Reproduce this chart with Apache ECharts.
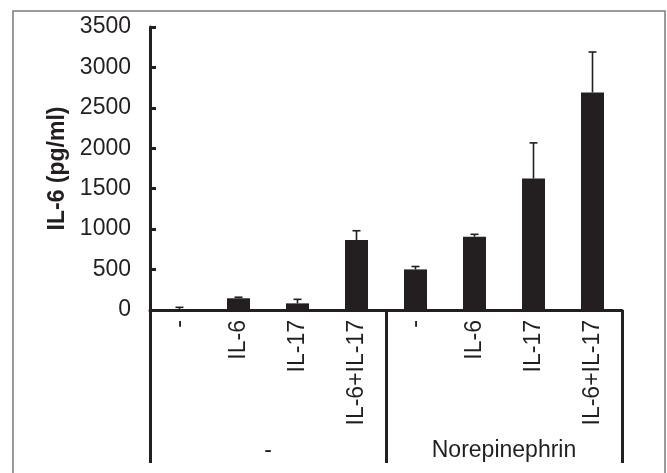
<!DOCTYPE html>
<html>
<head>
<meta charset="utf-8">
<script src="https://cdn.jsdelivr.net/npm/echarts@6/dist/echarts.min.js"></script>
<style>html,body{margin:0;padding:0;background:#fff;}#c{width:667px;height:473px;}</style>
</head>
<body>
<div id="c"></div>
<script>
const categories = ['-', 'IL-6', 'IL-17', 'IL-6+IL-17', '-', 'IL-6', 'IL-17', 'IL-6+IL-17'];
const groups = ['-', 'Norepinephrin'];
const means = [5, 145, 82, 865, 502, 906, 1626, 2690];
const errTops = [33, 158, 132, 980, 538, 936, 2067, 3191];
const yTicks = [0, 500, 1000, 1500, 2000, 2500, 3000, 3500];

const ink = '#231f20';
const font = "'Liberation Sans', Arial, sans-serif";
const chart = echarts.init(document.getElementById('c'));
chart.setOption({
  animation: false,
  backgroundColor: '#fff',
  graphic: [{
    type: 'polyline', silent: true,
    shape: { points: [[13, 480], [13, 11], [665, 11], [665, 480]] },
    style: { stroke: '#7a7a7a', lineWidth: 1.5, fill: null }
  }],
  grid: { left: 150, right: 45, top: 27, bottom: 163, containLabel: false },
  xAxis: [{
    type: 'category', data: categories, position: 'bottom',
    axisLine: { show: true, onZero: false, lineStyle: { color: ink, width: 3 } },
    axisTick: { show: false },
    axisLabel: { rotate: 90, margin: 10, fontSize: 23, color: ink, fontFamily: font, interval: 0 }
  }, {
    type: 'category', data: groups, position: 'bottom', offset: 0,
    axisLine: { show: false },
    axisTick: { show: true, length: 153, lineStyle: { color: ink, width: 3 } },
    axisLabel: { margin: 129, fontSize: 23, color: ink, fontFamily: font, interval: 0 }
  }],
  yAxis: {
    type: 'value', min: 0, max: 3500, interval: 500,
    name: 'IL-6 (pg/ml)', nameLocation: 'middle', nameGap: 74,
    nameTextStyle: { fontSize: 23, fontWeight: 'bold', color: ink, fontFamily: font },
    axisLine: { show: true, lineStyle: { color: ink, width: 3 } },
    axisTick: { show: true, inside: true, length: 6, lineStyle: { color: ink, width: 3 } },
    axisLabel: { margin: 19, fontSize: 23, color: ink, fontFamily: font,
      formatter: v => yTicks.includes(v) ? String(v) : '' },
    splitLine: { show: false }
  },
  series: [{
    type: 'bar', data: means, barWidth: 23, xAxisIndex: 0,
    itemStyle: { color: ink }
  }, {
    type: 'custom', xAxisIndex: 0, z: 3,
    data: means.map((m, i) => [i, m, errTops[i]]),
    renderItem: function (params, api) {
      const base = api.coord([api.value(0), api.value(1)]);
      const top = api.coord([api.value(0), api.value(2)]);
      return { type: 'group', children: [
        { type: 'line', shape: { x1: base[0], y1: base[1], x2: top[0], y2: top[1] }, style: { stroke: ink, lineWidth: 1.6 } },
        { type: 'line', shape: { x1: top[0] - 4, y1: top[1], x2: top[0] + 4, y2: top[1] }, style: { stroke: ink, lineWidth: 1.6 } }
      ] };
    }
  }]
});
</script>
</body>
</html>
